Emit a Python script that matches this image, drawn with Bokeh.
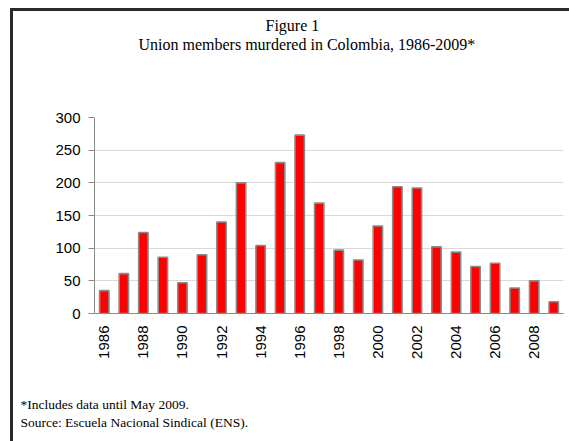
import math
from bokeh.plotting import figure
from bokeh.models import FixedTicker, Title
from bokeh.embed import file_html
from bokeh.resources import INLINE

# Union members murdered in Colombia per year (ENS)
years = list(range(1986, 2010))
murders = [35, 61, 124, 86, 47, 90, 140, 200, 104, 231, 273, 169,
           97, 82, 134, 194, 192, 102, 94, 72, 77, 39, 50, 18]
year_ticks = list(range(1986, 2010, 2))
value_ticks = [0, 50, 100, 150, 200, 250, 300]

title_line1 = "Figure 1"
title_line2 = "Union members murdered in Colombia, 1986-2009*"
note_line1 = "*Includes data until May 2009."
note_line2 = "Source: Escuela Nacional Sindical (ENS)."

# page geometry (pixels): figure offset, plotting frame edges
OX, OY = 13, 11
W, H = 559, 433
FRAME_L, FRAME_R, FRAME_T, FRAME_B = 94, 563, 117, 313

p = figure(width=W, height=H, output_backend="svg", toolbar_location=None,
           x_range=(1985.5, 2009.5), y_range=(0, 300),
           min_border_left=FRAME_L - OX, min_border_right=W - (FRAME_R - OX),
           min_border_top=FRAME_T - OY, min_border_bottom=H - (FRAME_B - OY))
p.margin = (OY, 0, 0, OX)
# dark rule along the top and left edge of the page box
p.styles = {"box-shadow": "-3px -3px 0 0 #2b2b2b"}
p.outline_line_color = None
p.background_fill_color = "white"
p.border_fill_color = "white"

p.vbar(x=years, top=murders, width=0.48, bottom=0,
       fill_color="#ff0000", line_color="#8a8a8a", line_width=1.6)

# y axis
p.yaxis.ticker = FixedTicker(ticks=value_ticks)
p.yaxis.axis_line_color = "#8a8a8a"
p.yaxis.major_tick_line_color = "#8a8a8a"
p.yaxis.major_tick_out = 6
p.yaxis.major_tick_in = 0
p.yaxis.minor_tick_line_color = None
p.yaxis.major_label_text_font = "Liberation Sans"
p.yaxis.major_label_text_font_size = "15px"
p.yaxis.major_label_text_color = "black"
p.yaxis.major_label_standoff = 8

# x axis
p.xaxis.ticker = FixedTicker(ticks=year_ticks)
p.xaxis.major_label_overrides = {y: str(y) for y in year_ticks}
p.xaxis.axis_line_color = "#8a8a8a"
p.xaxis.major_tick_line_color = None
p.xaxis.major_tick_out = 0
p.xaxis.minor_tick_line_color = None
p.xaxis.major_label_orientation = math.pi / 2
p.xaxis.major_label_text_font = "Liberation Sans"
p.xaxis.major_label_text_font_size = "15px"
p.xaxis.major_label_text_color = "black"
p.xaxis.major_label_standoff = 12

p.xgrid.grid_line_color = None
p.ygrid.ticker = FixedTicker(ticks=value_ticks[1:])
p.ygrid.grid_line_color = "#d9d9d9"
p.ygrid.grid_line_width = 1

serif = "Liberation Serif"

def text_title(text, offset, size, standoff):
    return Title(text=text, align="left", offset=offset, standoff=standoff,
                 text_font=serif, text_font_size=size, text_font_style="normal",
                 text_color="black")

def gap(standoff):
    # blank band used to space the stacked side panels
    return Title(text=" ", standoff=standoff, text_font_size="10px")

# above the frame: panels stack outward from the frame
p.add_layout(gap(52), "above")
p.add_layout(text_title(title_line2, 138 - FRAME_L, "16px", 0), "above")
p.add_layout(text_title(title_line1, 265 - FRAME_L, "16px", 0), "above")

# below the x axis: footnotes
p.add_layout(gap(20), "below")
p.add_layout(text_title(note_line1, 20 - FRAME_L, "13.5px", 0), "below")
p.add_layout(text_title(note_line2, 20 - FRAME_L, "13.5px", 2), "below")

open("out.html", "w").write(file_html(p, INLINE))
